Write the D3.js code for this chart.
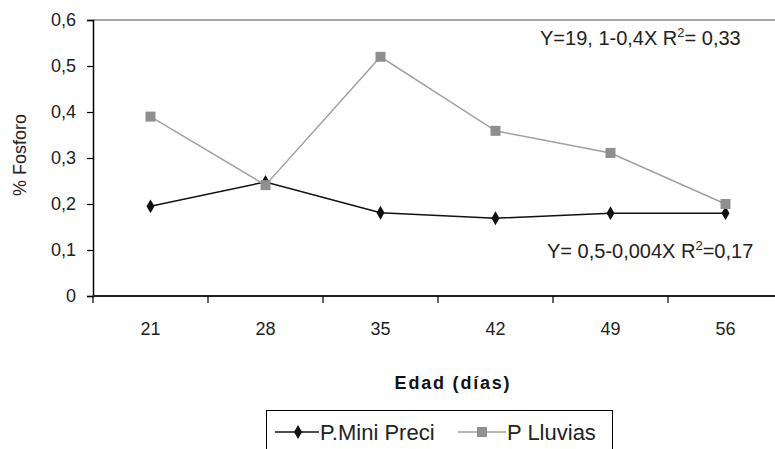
<!DOCTYPE html>
<html>
<head>
<meta charset="utf-8">
<script src="https://cdn.jsdelivr.net/npm/d3@7"></script>
<style>
  html, body { margin: 0; padding: 0; background: #fff; }
  svg { display: block; font-family: "Liberation Sans", Arial, sans-serif; }
</style>
</head>
<body>
<svg id="chart" width="775" height="449"></svg>
<script>
const categories = ["21", "28", "35", "42", "49", "56"];
const miniPreci = [0.195, 0.248, 0.181, 0.169, 0.18, 0.18];
const lluvias = [0.39, 0.241, 0.52, 0.359, 0.311, 0.20];
const yTicks = [0, 0.1, 0.2, 0.3, 0.4, 0.5, 0.6];
const seriesNames = ["P.Mini Preci", "P Lluvias"];
const equations = ["Y=19, 1-0,4X R", "Y= 0,5-0,004X R"];
const eqTails = ["= 0,33", "=0,17"];

const svg = d3.select("#chart");
const plotLeft = 93, plotTop = 20, plotBottom = 296, step = 115;

const x = d3.scaleBand().domain(categories)
  .range([plotLeft, plotLeft + step * categories.length]).paddingInner(0).paddingOuter(0);
const y = d3.scaleLinear().domain([0, 0.6]).range([plotBottom, plotTop]);
const fmt = v => v === 0 ? "0" : d3.format(".1f")(v).replace(".", ",");

// top frame line
svg.append("line").attr("x1", plotLeft).attr("x2", 775).attr("y1", y(0.6)).attr("y2", y(0.6))
  .attr("stroke", "#8a8a8a").attr("stroke-width", 1.5);

// Y axis
const yAxis = d3.axisLeft(y).tickValues(yTicks).tickFormat(fmt).tickSize(6).tickPadding(11);
const gy = svg.append("g").attr("transform", `translate(${plotLeft},0)`).call(yAxis);
gy.select(".domain").attr("stroke", "#000").attr("stroke-width", 1.5);
gy.selectAll(".tick line").attr("stroke", "#000").attr("stroke-width", 1.2);
gy.selectAll(".tick text").attr("font-size", 18).attr("fill", "#222")
  .attr("font-family", "Liberation Sans, Arial, sans-serif");

// X axis (ticks between categories)
svg.append("line").attr("x1", plotLeft).attr("x2", 775).attr("y1", plotBottom).attr("y2", plotBottom)
  .attr("stroke", "#222").attr("stroke-width", 2);
svg.append("g").selectAll("line").data(categories).join("line")
  .attr("x1", d => x(d)).attr("x2", d => x(d))
  .attr("y1", plotBottom).attr("y2", plotBottom + 7)
  .attr("stroke", "#000").attr("stroke-width", 1.2);
svg.append("g").selectAll("text").data(categories).join("text")
  .attr("x", d => x(d) + x.bandwidth() / 2).attr("y", 335)
  .attr("text-anchor", "middle").attr("font-size", 18).attr("fill", "#222")
  .text(d => d);

// Lines
const line = arr => d3.line()
  .x((d, i) => x(categories[i]) + x.bandwidth() / 2)
  .y(d => y(d))(arr);

const diamond = d3.symbol().type(d3.symbolDiamond).size(55);

svg.append("path").attr("d", line(miniPreci)).attr("fill", "none")
  .attr("stroke", "#111").attr("stroke-width", 1.5);
svg.append("g").selectAll("path").data(miniPreci).join("path")
  .attr("d", diamond)
  .attr("transform", (d, i) => `translate(${x(categories[i]) + x.bandwidth() / 2},${y(d)})`)
  .attr("fill", "#111");

svg.append("path").attr("d", line(lluvias)).attr("fill", "none")
  .attr("stroke", "#a0a0a0").attr("stroke-width", 1.5);
svg.append("g").selectAll("rect").data(lluvias).join("rect")
  .attr("x", (d, i) => x(categories[i]) + x.bandwidth() / 2 - 5)
  .attr("y", d => y(d) - 5)
  .attr("width", 10).attr("height", 10).attr("fill", "#8f8f8f");

// Equations
function eq(xp, yp, i) {
  const t = svg.append("text").attr("x", xp).attr("y", yp)
    .attr("font-size", 20).attr("fill", "#222");
  t.append("tspan").text(equations[i]);
  t.append("tspan").attr("font-size", 13).attr("dy", -8).text("2");
  t.append("tspan").attr("dy", 8).text(eqTails[i]);
}
eq(540, 45, 0);
eq(547, 258, 1);

// Axis titles
svg.append("text").attr("transform", "translate(26,155) rotate(-90)")
  .attr("text-anchor", "middle").attr("font-size", 18).attr("fill", "#222")
  .text("% Fosforo");
svg.append("text").attr("x", 453).attr("y", 389)
  .attr("text-anchor", "middle").attr("font-size", 18).attr("font-weight", "bold")
  .attr("letter-spacing", 1.8).attr("fill", "#111")
  .text("Edad (días)");

// Legend
svg.append("rect").attr("x", 266.5).attr("y", 410.5).attr("width", 346).attr("height", 60)
  .attr("fill", "none").attr("stroke", "#000").attr("stroke-width", 1);
const ly = 432;
svg.append("line").attr("x1", 275).attr("x2", 319).attr("y1", ly).attr("y2", ly)
  .attr("stroke", "#111").attr("stroke-width", 1.5);
svg.append("path").attr("d", diamond).attr("transform", `translate(298,${ly})`).attr("fill", "#111");
svg.append("text").attr("x", 320).attr("y", ly + 8).attr("font-size", 22).attr("fill", "#222")
  .text(seriesNames[0]);
svg.append("line").attr("x1", 458).attr("x2", 506).attr("y1", ly).attr("y2", ly)
  .attr("stroke", "#a0a0a0").attr("stroke-width", 1.5);
svg.append("rect").attr("x", 477).attr("y", ly - 5).attr("width", 10).attr("height", 10).attr("fill", "#8f8f8f");
svg.append("text").attr("x", 507).attr("y", ly + 8).attr("font-size", 22).attr("fill", "#222")
  .text(seriesNames[1]);
</script>
</body>
</html>
